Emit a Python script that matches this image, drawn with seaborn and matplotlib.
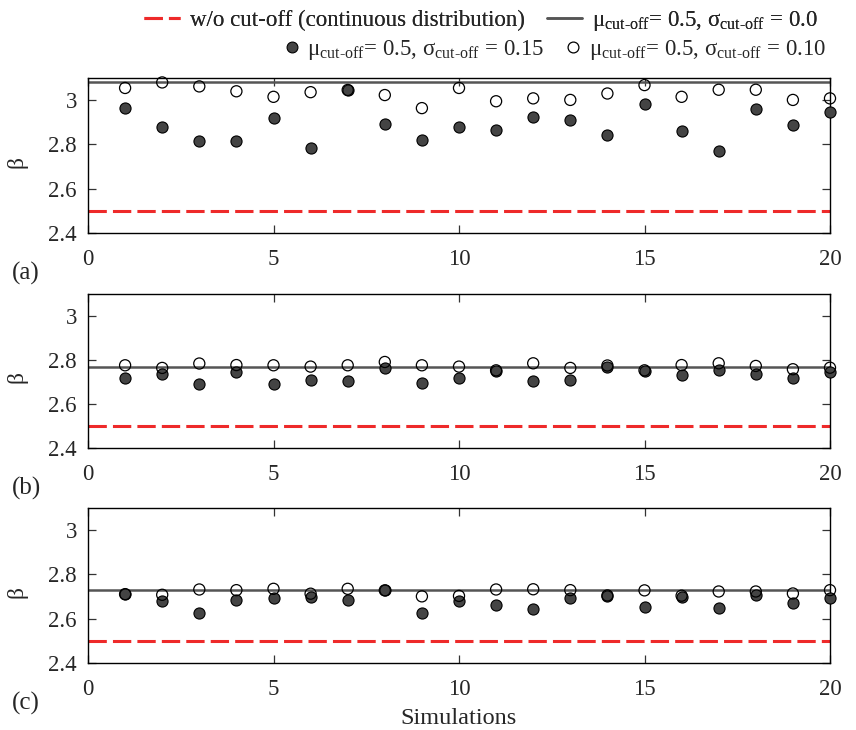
import numpy as np
import pandas as pd
import matplotlib
matplotlib.use("Agg")
import matplotlib.pyplot as plt
from matplotlib.lines import Line2D
import seaborn as sns

# ---------------- data ----------------
simulations = list(range(1, 21))

a_sigma015 = [2.964, 2.880, 2.815, 2.815, 2.918, 2.783, 3.044, 2.894, 2.820, 2.880,
              2.867, 2.926, 2.912, 2.842, 2.983, 2.861, 2.771, 2.958, 2.886, 2.945]
a_sigma010 = [3.055, 3.080, 3.062, 3.040, 3.015, 3.036, 3.046, 3.023, 2.964, 3.055,
              2.995, 3.008, 3.001, 3.030, 3.068, 3.015, 3.047, 3.047, 3.001, 3.008]

b_sigma015 = [2.718, 2.736, 2.691, 2.744, 2.691, 2.711, 2.705, 2.765, 2.697, 2.718,
              2.750, 2.705, 2.711, 2.770, 2.750, 2.730, 2.755, 2.738, 2.718, 2.744]
b_sigma010 = [2.776, 2.764, 2.784, 2.777, 2.776, 2.770, 2.776, 2.791, 2.776, 2.770,
              2.753, 2.785, 2.764, 2.775, 2.753, 2.777, 2.785, 2.773, 2.758, 2.765]

c_sigma015 = [2.710, 2.678, 2.628, 2.686, 2.692, 2.700, 2.686, 2.728, 2.628, 2.678,
              2.660, 2.642, 2.692, 2.703, 2.654, 2.700, 2.647, 2.709, 2.672, 2.692]
c_sigma010 = [2.711, 2.708, 2.732, 2.729, 2.735, 2.713, 2.735, 2.728, 2.701, 2.703,
              2.732, 2.733, 2.729, 2.705, 2.728, 2.704, 2.723, 2.723, 2.714, 2.729]

sigma0_beta = [3.08, 2.768, 2.73]          # mu=0.5, sigma=0.0 per panel
continuous_beta = [2.5, 2.5, 2.5]          # w/o cut-off per panel
panel_labels = ["(a)", "(b)", "(c)"]

xticks = [0, 5, 10, 15, 20]
yticks = [2.4, 2.6, 2.8, 3.0]
ytick_labels = ["2.4", "2.6", "2.8", "3"]

legend_labels = [
    "w/o cut-off (continuous distribution)",
    "μ$_{\\text{cut-off}}$= 0.5, σ$_{\\text{cut-off}}$ = 0.0",
    "μ$_{\\text{cut-off}}$= 0.5, σ$_{\\text{cut-off}}$ = 0.15",
    "μ$_{\\text{cut-off}}$= 0.5, σ$_{\\text{cut-off}}$ = 0.10",
]

# ---------------- style ----------------
sns.set_style("ticks")
plt.rcParams["font.family"] = ["Liberation Serif", "DejaVu Serif"]
plt.rcParams["mathtext.fontset"] = "custom"
plt.rcParams["mathtext.rm"] = "Liberation Serif"
plt.rcParams["mathtext.it"] = "Liberation Serif:italic"
plt.rcParams["font.size"] = 16.5

W, H = 856, 730
fig = plt.figure(figsize=(W / 100, H / 100), dpi=100)

def fx(px):
    return px / W

def fy(px):
    return 1 - px / H

panels = [(78, 233), (294, 448), (508, 663)]
left_px, right_px = 88, 830

series = [(a_sigma015, a_sigma010), (b_sigma015, b_sigma010), (c_sigma015, c_sigma010)]

RED = "#ee2a2a"
GRAY = "#555555"
DARK = "#444444"
TICK_FS = 16.5

axes = []
for i, ((top, bot), (s15, s10)) in enumerate(zip(panels, series)):
    ax = fig.add_axes([fx(left_px), fy(bot), fx(right_px - left_px), (bot - top) / H])
    axes.append(ax)
    ax.axhline(continuous_beta[i], color=RED, lw=2.2, dashes=(6, 2), zorder=1)
    ax.axhline(sigma0_beta[i], color=GRAY, lw=1.8, zorder=1)
    df = pd.DataFrame({"sim": simulations, "s15": s15, "s10": s10})
    sns.scatterplot(data=df, x="sim", y="s15", ax=ax, s=64, color=DARK,
                    edgecolor="black", linewidth=0.8, zorder=3, legend=False,
                    clip_on=False)
    sns.scatterplot(data=df, x="sim", y="s10", ax=ax, s=64, facecolor="none",
                    edgecolor="black", linewidth=0.9, zorder=4, legend=False,
                    clip_on=False)
    ax.set_xlim(0, 20)
    ax.set_ylim(2.4, 3.1)
    ax.set_xticks(xticks)
    ax.set_xticklabels([str(t) for t in xticks])
    ax.set_yticks(yticks)
    ax.set_yticklabels(ytick_labels)
    ax.tick_params(direction="in", top=True, right=True, length=6, width=0.9,
                   labelsize=TICK_FS, color="#333333")
    ax.tick_params(axis="x", pad=11.5)
    ax.tick_params(axis="y", pad=8)
    for sp in ax.spines.values():
        sp.set_linewidth(1.0)
        sp.set_color("black")
    ax.set_xlabel("")
    ax.set_ylabel("β", fontsize=17)
    ax.yaxis.set_label_coords(-0.082, 0.46)
    fig.text(fx(12), fy(bot + 40), panel_labels[i], fontsize=18, va="center", ha="left")

axes[2].set_xlabel("Simulations", fontsize=17.5)
axes[2].xaxis.set_label_coords(0.5, -0.29)

# ---------------- legend ----------------
h_red = Line2D([], [], color=RED, lw=2.2, dashes=(6, 2))
h_solid = Line2D([], [], color=GRAY, lw=1.8)
h_filled = Line2D([], [], ls="none", marker="o", markersize=7.8, markerfacecolor=DARK,
                  markeredgecolor="black", markeredgewidth=0.8)
h_open = Line2D([], [], ls="none", marker="o", markersize=7.8, markerfacecolor="none",
                markeredgecolor="black", markeredgewidth=0.9)

LEG_FS = 16.5
leg1 = fig.legend([h_red, h_solid], legend_labels[:2], ncol=2, frameon=False,
                  loc="center right", bbox_to_anchor=(fx(818), fy(21)),
                  fontsize=LEG_FS, handlelength=1.55, handletextpad=0.44,
                  columnspacing=0.96, borderaxespad=0, borderpad=0)
leg2 = fig.legend([h_filled, h_open], legend_labels[2:], ncol=2, frameon=False,
                  loc="center right", bbox_to_anchor=(fx(826), fy(50)),
                  fontsize=LEG_FS, handlelength=0.6, handletextpad=0.37,
                  columnspacing=0.95, borderaxespad=0, borderpad=0)
fig.add_artist(leg1)

fig.savefig("out.png", dpi=100)
